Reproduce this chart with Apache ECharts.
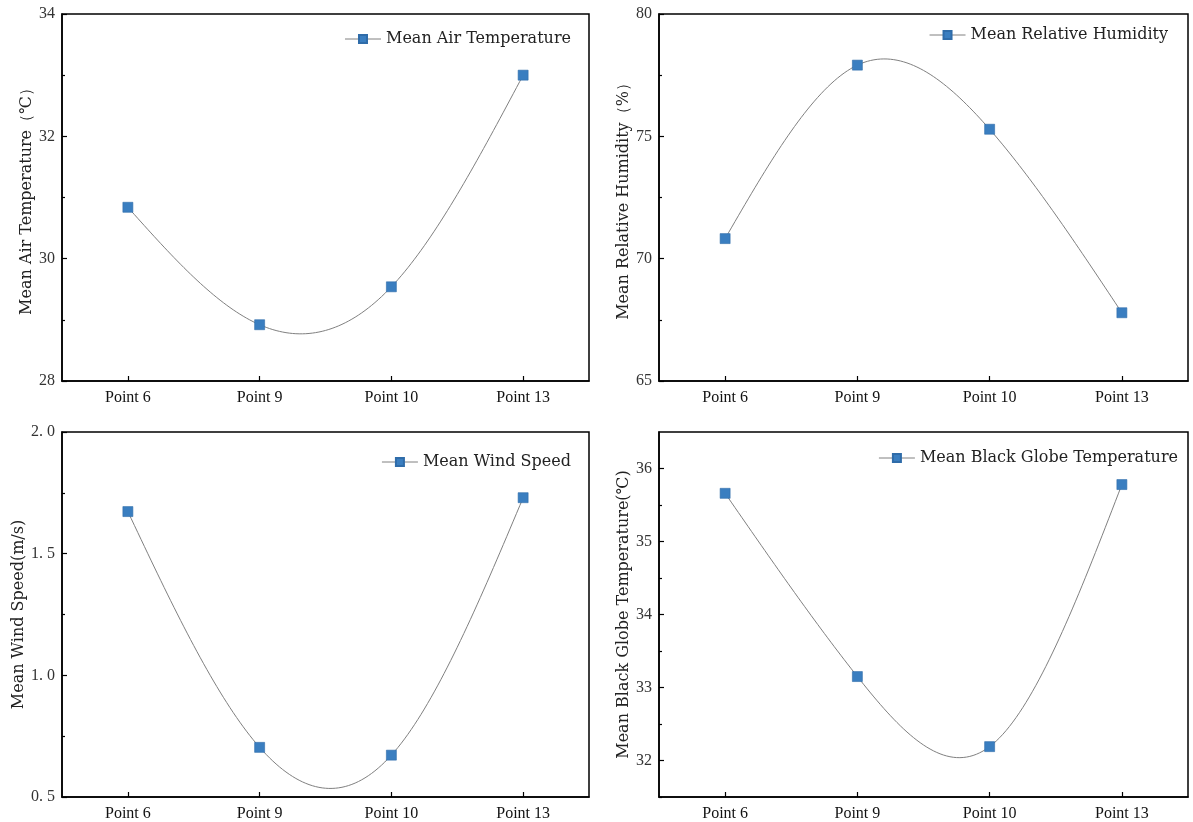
<!DOCTYPE html>
<html>
<head>
<meta charset="utf-8">
<script src="https://cdn.jsdelivr.net/npm/echarts@6/dist/echarts.min.js"></script>
<style>html,body{margin:0;padding:0;background:#fff;}#c{width:1193px;height:822px;}</style>
</head>
<body>
<div id="c"></div>
<script>
var categories = ['Point 6', 'Point 9', 'Point 10', 'Point 13'];

var airTemp = [30.84, 28.92, 29.54, 33.0];
var humidity = [70.82, 77.91, 75.29, 67.79];
var windSpeed = [1.673, 0.704, 0.672, 1.730];
var globeTemp = [35.66, 33.15, 32.19, 35.78];

var airTicks = [28, 30, 32, 34];
var airMinor = [29, 31, 33];
var humTicks = [65, 70, 75, 80];
var humMinor = [67.5, 72.5, 77.5];
var windTicks = [0.5, 1.0, 1.5, 2.0];
var windMinor = [0.75, 1.25, 1.75];
var globeTicks = [32, 33, 34, 35, 36];
var globeMinor = [31.5, 32.5, 33.5, 34.5, 35.5];

var seriesNames = ['Mean Air Temperature', 'Mean Relative Humidity', 'Mean Wind Speed', 'Mean Black Globe Temperature'];
var axisNames = ['Mean Air Temperature（℃）', 'Mean Relative Humidity（%）', 'Mean Wind Speed(m/s)', 'Mean Black Globe Temperature(℃)'];

var panels = [
  {data: airTemp, ticks: airTicks, minor: airMinor, min: 28, max: 34, fmt: function (v) { return String(v); }, gap: 23},
  {data: humidity, ticks: humTicks, minor: humMinor, min: 65, max: 80, fmt: function (v) { return String(v); }, gap: 22},
  {data: windSpeed, ticks: windTicks, minor: windMinor, min: 0.5, max: 2.0, fmt: function (v) { return v.toFixed(1).replace('.', '. '); }, gap: 32},
  {data: globeTemp, ticks: globeTicks, minor: globeMinor, min: 31.5, max: 36.5, fmt: function (v) { return String(v); }, gap: 25}
];

var grids = [
  {left: 62, top: 14, width: 527, height: 367},
  {left: 659, top: 14, width: 529, height: 367},
  {left: 62, top: 432, width: 527, height: 367},
  {left: 659, top: 432, width: 529, height: 367}
];
var legendPos = [
  {right: 622, top: 31},
  {right: 25, top: 27},
  {right: 622, top: 454},
  {right: 15, top: 450}
];

// natural cubic spline through pixel points (uniform x), used only for drawing the line
function splinePath(pts) {
  var n = pts.length;
  var h = [], i;
  for (i = 0; i < n - 1; i++) h.push(pts[i + 1][0] - pts[i][0]);
  var a = [], b = [], c = [], d = [];
  var M = new Array(n).fill(0);
  var m = n - 2;
  if (m > 0) {
    for (i = 1; i <= m; i++) {
      a.push(h[i - 1]); b.push(2 * (h[i - 1] + h[i])); c.push(h[i]);
      d.push(6 * ((pts[i + 1][1] - pts[i][1]) / h[i] - (pts[i][1] - pts[i - 1][1]) / h[i - 1]));
    }
    for (i = 1; i < m; i++) {
      var w = a[i] / b[i - 1];
      b[i] -= w * c[i - 1];
      d[i] -= w * d[i - 1];
    }
    var sol = new Array(m);
    sol[m - 1] = d[m - 1] / b[m - 1];
    for (i = m - 2; i >= 0; i--) sol[i] = (d[i] - c[i] * sol[i + 1]) / b[i];
    for (i = 0; i < m; i++) M[i + 1] = sol[i];
  }
  var out = [];
  var steps = 40;
  for (i = 0; i < n - 1; i++) {
    for (var s = 0; s <= steps; s++) {
      if (i > 0 && s === 0) continue;
      var t = s / steps;
      var hh = h[i];
      var x = pts[i][0] + t * hh;
      var A = 1 - t, B = t;
      var y = A * pts[i][1] + B * pts[i + 1][1] +
        ((A * A * A - A) * M[i] + (B * B * B - B) * M[i + 1]) * hh * hh / 6;
      out.push([x, y]);
    }
  }
  return out;
}

var nameFont = 'DejaVu Serif';
var option = {
  backgroundColor: '#fff',
  animation: false,
  grid: grids.map(function (g) {
    return Object.assign({show: true, borderColor: '#000', borderWidth: 1.5, backgroundColor: 'transparent'}, g);
  }),
  legend: seriesNames.map(function (n, i) {
    return {
      data: [n], right: legendPos[i].right, top: legendPos[i].top, padding: 0,
      itemWidth: 36, itemHeight: 10,
      lineStyle: {color: '#808080', width: 1, opacity: 1},
      textStyle: {fontFamily: nameFont, fontSize: 16, color: '#222'}
    };
  }),
  xAxis: [],
  yAxis: [],
  series: []
};

panels.forEach(function (p, i) {
  option.xAxis.push({
    type: 'category', gridIndex: i, data: categories, boundaryGap: true,
    axisLine: {show: true, lineStyle: {color: '#000', width: 1.5}},
    axisTick: {show: true, inside: true, alignWithLabel: true, length: 5, lineStyle: {color: '#000', width: 1.2}},
    axisLabel: {fontFamily: 'Liberation Serif', fontSize: 16, color: '#111', margin: 9},
    splitLine: {show: false}
  });
  option.yAxis.push({
    type: 'value', gridIndex: i, min: p.min, max: p.max,
    name: axisNames[i], nameLocation: 'middle', nameGap: p.gap, nameRotate: 90,
    nameTextStyle: {fontFamily: nameFont, fontSize: 16, color: '#222'},
    axisLine: {show: true, lineStyle: {color: '#000', width: 1.5}},
    axisTick: {show: true, inside: true, length: 5, customValues: p.ticks, lineStyle: {color: '#000', width: 1.2}},
    axisLabel: {customValues: p.ticks, fontFamily: 'Liberation Serif', fontSize: 16, color: '#333', margin: 7, formatter: p.fmt},
    splitLine: {show: false}
  });
  option.yAxis.push({
    type: 'value', gridIndex: i, min: p.min, max: p.max, position: 'left',
    axisLine: {show: false},
    axisTick: {show: true, inside: true, length: 3, customValues: p.minor, lineStyle: {color: '#000', width: 1.2}},
    axisLabel: {show: false},
    splitLine: {show: false}
  });
  option.series.push({
    type: 'custom', xAxisIndex: i, yAxisIndex: i * 2, silent: true, z: 1,
    data: p.data.map(function (v, k) { return [k, v]; }),
    encode: {x: 0, y: 1},
    renderItem: (function (vals) {
      return function (params, api) {
        if (params.dataIndex !== 0) return null;
        var pts = vals.map(function (v, k) { return api.coord([k, v]); });
        return {
          type: 'polyline',
          shape: {points: splinePath(pts)},
          style: {stroke: '#808080', lineWidth: 1, fill: null}
        };
      };
    })(p.data)
  });
  option.series.push({
    name: seriesNames[i], type: 'line', xAxisIndex: i, yAxisIndex: i * 2,
    data: p.data, z: 3,
    symbol: 'rect', symbolSize: 10, showAllSymbol: true,
    lineStyle: {color: '#808080', width: 0, opacity: 0},
    itemStyle: {color: '#3a7ec0', borderColor: '#2f6ca9', borderWidth: 0.6}
  });
});

var chart = echarts.init(document.getElementById('c'), null, {renderer: 'canvas'});
chart.setOption(option);
</script>
</body>
</html>
